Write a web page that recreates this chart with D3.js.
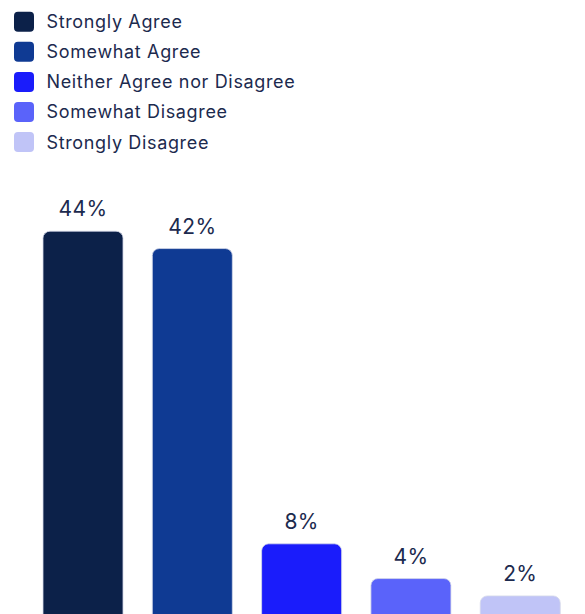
<!DOCTYPE html>
<html>
<head>
<meta charset="utf-8">
<script src="https://cdn.jsdelivr.net/npm/d3@7"></script>
<style>
  html, body { margin: 0; padding: 0; background: #ffffff; overflow: hidden; }
  svg { display: block; }
  text { font-family: Inter, "Open Sans", sans-serif; fill: #1c2a4e; }
</style>
</head>
<body>
<svg id="chart" width="585" height="614"></svg>
<script>
// Survey responses (share of respondents, %)
const categories = [
  "Strongly Agree",
  "Somewhat Agree",
  "Neither Agree nor Disagree",
  "Somewhat Disagree",
  "Strongly Disagree"
];
const values = [44, 42, 8, 4, 2];
const valueLabels = ["44%", "42%", "8%", "4%", "2%"];
const colors = ["#0c2149", "#0f3a93", "#1a1cfb", "#5a63fa", "#c0c4f7"];

const W = 585, H = 614;
const svg = d3.select("#chart");

// Legend
const legend = svg.append("g").attr("class", "legend");
const legendY = d3.scalePoint().domain(categories).range([21.8, 142]);
const rows = legend.selectAll("g").data(categories).join("g")
  .attr("transform", d => `translate(0,${legendY(d)})`);
rows.append("rect")
  .attr("x", 14).attr("y", -10)
  .attr("width", 20).attr("height", 20)
  .attr("rx", 4).attr("ry", 4)
  .attr("fill", (d, i) => colors[i]);
rows.append("text")
  .attr("x", 46.5).attr("y", 6.5)
  .attr("font-size", 18)
  .attr("letter-spacing", 0.65)
  .text(d => d);

// Bars
const x = d3.scaleBand()
  .domain(categories)
  .range([43, 560.25])
  .paddingInner(0.268)
  .paddingOuter(0);
const y = d3.scaleLinear().domain([0, 44]).range([613.3, 231.2]);

const bars = svg.append("g").attr("class", "bars");
bars.selectAll("rect").data(categories).join("rect")
  .attr("x", d => x(d))
  .attr("y", (d, i) => y(values[i]))
  .attr("width", x.bandwidth())
  .attr("height", (d, i) => H + 20 - y(values[i]))
  .attr("rx", 7).attr("ry", 7)
  .attr("fill", (d, i) => colors[i])
  .attr("stroke", "#d6d9ea")
  .attr("stroke-width", 0.8);

bars.selectAll("text").data(categories).join("text")
  .attr("x", d => x(d) + x.bandwidth() / 2)
  .attr("y", (d, i) => y(values[i]) - 15)
  .attr("text-anchor", "middle")
  .attr("font-size", 21)
  .attr("letter-spacing", 0.4)
  .text((d, i) => valueLabels[i]);
</script>
</body>
</html>
